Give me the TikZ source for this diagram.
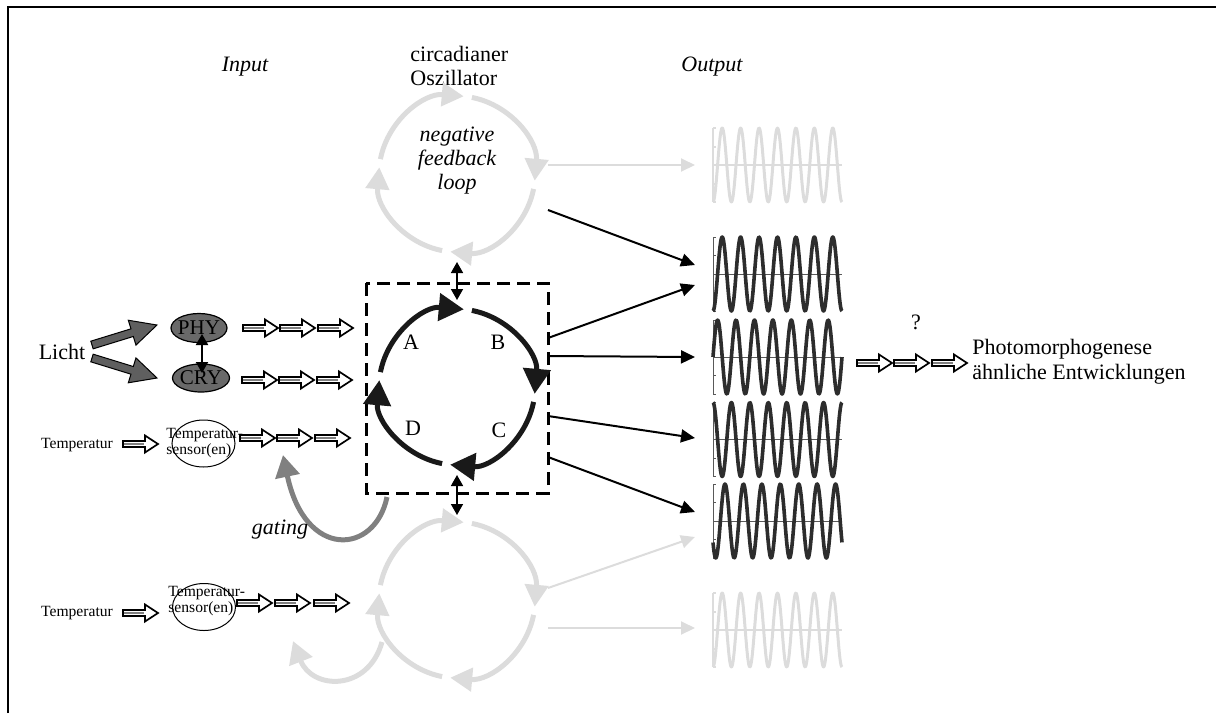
\documentclass[tikz,border=0pt]{standalone}
\usepackage{fontspec}
\setmainfont{Liberation Serif}
\usetikzlibrary{arrows.meta,calc,shapes.geometric}
\definecolor{lgray}{RGB}{220,220,220}
\definecolor{ggray}{RGB}{128,128,128}
\definecolor{dgray}{RGB}{95,95,95}
\definecolor{egray}{RGB}{105,105,105}
\definecolor{wblack}{RGB}{45,45,45}
\newcommand\oscCycle[2]{%
  \foreach \s/\e in {169/85,79/-5,-11/-95,-101/-185}{%
    \draw[cyc,#2] ($(#1)+(\s:39pt)$) arc[start angle=\s,end angle=\e,radius=39pt];
  }}
\newcommand\wavePlot[4]{%
  \draw[#3] (713,#1) -- (842,#1);
  \draw[#3] (713,#1-37) -- (713,#1+37);
  \foreach \t in {-37,-18.5,18.5,37} \draw[#3] (713,#1+\t) -- (716,#1+\t);
  \draw[#4] plot[domain=0:129,samples=240] ({713+\x},{#1-37*cos(((\x+713-#2)/18.43)*360)});
}
\tikzset{harrow/.pic={
  \draw[line width=0.85pt,fill=white,line join=miter] (0,-3) -- (22,-3) -- (22,-8.5) -- (35,0) -- (22,8.5) -- (22,3) -- (0,3) -- cycle;
  \draw[gray,line width=1pt] (1,0) -- (21,0);
}}
\begin{document}
\begin{tikzpicture}[x=0.5pt,y=-0.5pt,
  lbl/.style={inner sep=0pt,font=\fontsize{11}{12}\selectfont},
  ilbl/.style={inner sep=0pt,font=\fontsize{11}{12}\selectfont\itshape},
  small/.style={inner sep=0pt,font=\fontsize{7.8}{8}\selectfont,align=left,anchor=west},
  cyc/.style={line width=2.5pt,-{Triangle[length=12.5pt,width=13.5pt]}},
  gcyc/.style={lgray,-{Triangle[length=11pt,width=11.5pt]}},
  outarrow/.style={line width=1pt,-{Triangle[length=7pt,width=6.5pt]}},
  dbl/.style={line width=0.8pt,{Triangle[length=5.5pt,width=6pt]}-{Triangle[length=5.5pt,width=6pt]}},
  bigarrow/.style={fill=dgray,draw=black,line width=0.5pt},
  sensor/.style={ellipse,draw,line width=0.5pt,minimum width=31.5pt,minimum height=23.5pt,inner sep=0pt},
  receptor/.style={ellipse,draw,line width=0.6pt,fill=egray,minimum width=28pt,minimum height=14.5pt,inner sep=0pt},
  bwave/.style={line width=1.8pt,wblack,line join=round},
  baxis/.style={line width=0.5pt,black!65},
  gwave/.style={line width=1.5pt,lgray,line join=round},
  gaxis/.style={line width=1pt,lgray},
]
\useasboundingbox (0,0) rectangle (1216,713);
% frame
\draw[line width=1pt] (8,713) -- (8,7) -- (1216,7);

% headings
\node[ilbl] (input) at (245,67) {Input};
\node[ilbl] (output) at (712,67) {Output};
\node[lbl,align=left,anchor=west] (osc) at (410,66) {circadianer\\Oszillator};

% oscillator centres
\coordinate (c1) at (457,387);
\coordinate (c2) at (457,174);
\coordinate (c3) at (457,600);

% dashed box
\draw[line width=1.5pt,dash pattern=on 6.5pt off 3.5pt] (366,283) rectangle (548,493);

% cycles
\oscCycle{c2}{gcyc}
\oscCycle{c3}{gcyc}
\oscCycle{c1}{black!90}
\node[ilbl,align=center] (nfl) at (457,161) {negative\\feedback\\loop};
\node[lbl] (A) at (411,342) {A};
\node[lbl] (B) at (498,342) {B};
\node[lbl] (C) at (499,430) {C};
\node[lbl] (D) at (413,428) {D};

% coupling arrows
\coordinate (ct1) at (457,262);
\coordinate (ct2) at (457,300);
\coordinate (cb1) at (457,475);
\coordinate (cb2) at (457,515);
\draw[dbl] (ct1) -- (ct2);
\draw[dbl] (cb1) -- (cb2);

% extra gray loop bottom-left
\coordinate (g1) at (382,642);
\coordinate (g2) at (293,641);
\draw[lgray,line width=2.5pt,-{Triangle[length=11pt,width=12pt]}] (g1) .. controls (368,692) and (312,690) .. (g2);

% gating
\coordinate (gs) at (387,497);
\coordinate (ge) at (283,455);
\draw[ggray,line width=2.5pt,-{Triangle[length=11pt,width=12pt]}] (gs) .. controls (375,555) and (305,560) .. (ge);
\node[ilbl] (gating) at (280,530) {gating};

% Licht
\node[lbl] (licht) at (62,352) {Licht};
\begin{scope}[shift={(92,345)},rotate=17.1]
  \draw[bigarrow] (0,-4) -- (42,-4) -- (42,-13) -- (68,0) -- (42,13) -- (42,4) -- (0,4) -- cycle;
\end{scope}
\begin{scope}[shift={(92,358)},rotate=-17.1]
  \draw[bigarrow] (0,-4) -- (42,-4) -- (42,-13) -- (68,0) -- (42,13) -- (42,4) -- (0,4) -- cycle;
\end{scope}
\node[receptor] (phy) at (199,328) {};
\node[lbl,font=\fontsize{10.5}{12}\selectfont] at (phy) {PHY};
\node[receptor,minimum width=28.5pt,minimum height=14pt] (cry) at (201,378) {};
\node[lbl,font=\fontsize{10.5}{12}\selectfont] at (cry) {CRY};
\coordinate (pc1) at (202,334);
\coordinate (pc2) at (202,373);
\draw[dbl,line width=1pt] (pc1) -- (pc2);

% input chains
\foreach \x in {243,280,318} \pic at (\x,328) {harrow};
\foreach \x in {242,279,317} \pic at (\x,380) {harrow};
\foreach \x in {240,277,315} \pic at (\x,438) {harrow};
\foreach \x in {237,275,314} \pic at (\x,603) {harrow};

% temperature rows
\node[small,anchor=center] (temp1) at (77,445) {Temperatur};
\pic at (123,444) {harrow};
\node[sensor] (sens1) at (203.5,443.5) {};
\node[small] (st1) at (166,443) {Temperatur-\\sensor(en)};
\node[small,anchor=center] (temp2) at (77,613) {Temperatur};
\pic at (123,613) {harrow};
\node[sensor] (sens2) at (204,607) {};
\node[small] (st2) at (168,601) {Temperatur-\\sensor(en)};

% waves
\wavePlot{165}{722.2}{gaxis}{gwave}
\wavePlot{274}{722.2}{baxis}{bwave}
\wavePlot{357}{717.6}{baxis}{bwave}
\wavePlot{439.5}{713}{baxis}{bwave}
\wavePlot{521}{725}{baxis}{bwave}
\wavePlot{630}{722.2}{gaxis}{gwave}

% output arrows
\coordinate (o0s) at (548,165); \coordinate (o0e) at (695,165);
\coordinate (o1s) at (548,210); \coordinate (o1e) at (695,265);
\coordinate (o2s) at (548,338); \coordinate (o2e) at (695,285);
\coordinate (o3s) at (548,356); \coordinate (o3e) at (695,357);
\coordinate (o4s) at (548,416); \coordinate (o4e) at (695,438);
\coordinate (o5s) at (548,457); \coordinate (o5e) at (695,512);
\coordinate (o6s) at (548,588); \coordinate (o6e) at (695,537);
\coordinate (o7s) at (548,628); \coordinate (o7e) at (695,628);
\draw[outarrow,lgray] (o0s) -- (o0e);
\draw[outarrow] (o1s) -- (o1e);
\draw[outarrow] (o2s) -- (o2e);
\draw[outarrow] (o3s) -- (o3e);
\draw[outarrow] (o4s) -- (o4e);
\draw[outarrow] (o5s) -- (o5e);
\draw[outarrow,lgray] (o6s) -- (o6e);
\draw[outarrow,lgray] (o7s) -- (o7e);

% result
\foreach \x in {857,894,932} \pic at (\x,363) {harrow};
\node[lbl] (q) at (916,322) {?};
\node[lbl,align=left,anchor=west,font=\fontsize{11}{12.5}\selectfont] (photo) at (972,362) {Photomorphogenese\\ähnliche Entwicklungen};
\end{tikzpicture}
\end{document}
